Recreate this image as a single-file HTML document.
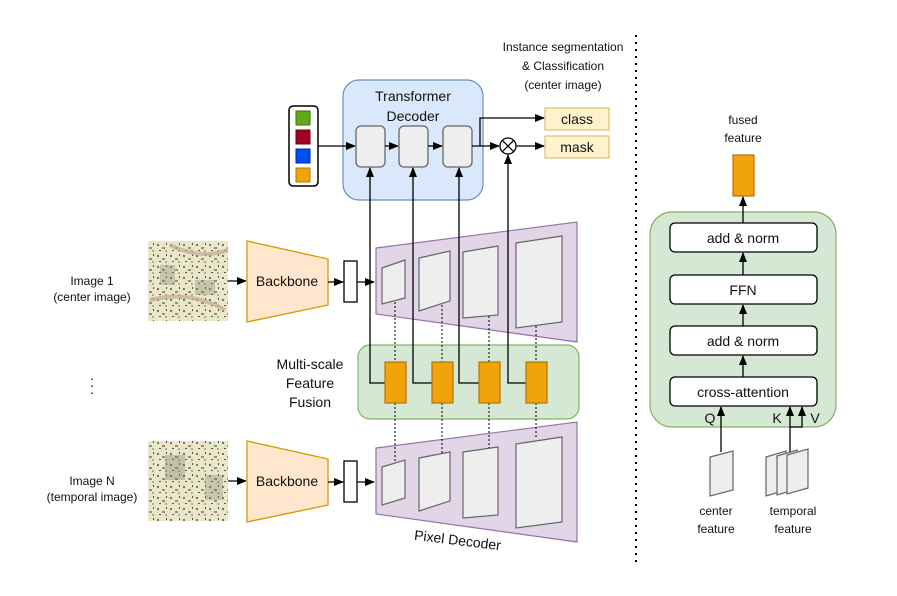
<!DOCTYPE html>
<html><head><meta charset="utf-8"><style>
html,body{margin:0;padding:0;background:#fff}
svg{display:block}
text{font-family:"Liberation Sans",Arial,sans-serif;fill:#111}
</style></head><body>
<svg width="897" height="596" viewBox="0 0 897 596" xmlns="http://www.w3.org/2000/svg">
<defs>
<marker id="a" markerWidth="10" markerHeight="10" refX="9" refY="5" orient="auto" markerUnits="userSpaceOnUse"><path d="M0,1 L10,5 L0,9 z" fill="#000"/></marker>
<pattern id="specks" width="13" height="11" patternUnits="userSpaceOnUse">
<rect width="13" height="11" fill="#ece6c8"/>
<rect x="1" y="2" width="2" height="2" fill="#6f7a66"/>
<rect x="6" y="5" width="3" height="2" fill="#8c9484"/>
<rect x="10" y="1" width="1" height="2" fill="#4d5548"/>
<rect x="3" y="8" width="2" height="1" fill="#555"/>
<rect x="9" y="8" width="2" height="2" fill="#a8ae9a"/>
</pattern>
</defs>

<!-- Transformer decoder -->
<rect x="343" y="80" width="140" height="120" rx="16" fill="#dae8fc" stroke="#6c8ebf" stroke-width="1.2"/>
<text x="413" y="101" font-size="14" text-anchor="middle">Transformer</text>
<text x="413" y="121" font-size="14" text-anchor="middle">Decoder</text>
<rect x="289" y="106" width="29" height="80" rx="4" fill="#fff" stroke="#000" stroke-width="1.5"/>
<rect x="296" y="111" width="14" height="14" fill="#60a917" stroke="#2d7600"/>
<rect x="296" y="130" width="14" height="14" fill="#a20025" stroke="#6f0000"/>
<rect x="296" y="149" width="14" height="14" fill="#0050ef" stroke="#001dbc"/>
<rect x="296" y="168" width="14" height="14" fill="#f0a30a" stroke="#bd7000"/>
<line x1="318" y1="146" x2="355" y2="146" stroke="#000" stroke-width="1.3" marker-end="url(#a)"/>
<rect x="356" y="126" width="29" height="41" rx="5" fill="#eee" stroke="#666" stroke-width="1.3"/>
<line x1="385" y1="146" x2="398" y2="146" stroke="#000" stroke-width="1.3" marker-end="url(#a)"/>
<rect x="399" y="126" width="29" height="41" rx="5" fill="#eee" stroke="#666" stroke-width="1.3"/>
<line x1="428" y1="146" x2="442" y2="146" stroke="#000" stroke-width="1.3" marker-end="url(#a)"/>
<rect x="443" y="126" width="29" height="41" rx="5" fill="#eee" stroke="#666" stroke-width="1.3"/>
<line x1="472" y1="146" x2="499" y2="146" stroke="#000" stroke-width="1.3" marker-end="url(#a)"/>
<polyline points="480,146 480,118 544,118" fill="none" stroke="#000" stroke-width="1.3" marker-end="url(#a)"/>
<circle cx="508" cy="146" r="8" fill="#fff" stroke="#000" stroke-width="1.3"/>
<line x1="502.3" y1="140.3" x2="513.7" y2="151.7" stroke="#000" stroke-width="1.3"/>
<line x1="513.7" y1="140.3" x2="502.3" y2="151.7" stroke="#000" stroke-width="1.3"/>
<line x1="516" y1="146" x2="544" y2="146" stroke="#000" stroke-width="1.3" marker-end="url(#a)"/>
<rect x="545" y="108" width="64" height="22" fill="#fff2cc" stroke="#d6b656"/>
<text x="577" y="124" font-size="14" text-anchor="middle">class</text>
<rect x="545" y="136" width="64" height="22" fill="#fff2cc" stroke="#d6b656"/>
<text x="577" y="152" font-size="14" text-anchor="middle">mask</text>
<text x="563" y="51" font-size="12" text-anchor="middle">Instance segmentation</text>
<text x="563" y="70" font-size="12" text-anchor="middle">&amp; Classification</text>
<text x="563" y="89" font-size="12" text-anchor="middle">(center image)</text>

<!-- Image 1 row -->
<text x="92" y="285" font-size="12" text-anchor="middle">Image 1</text>
<text x="92" y="301" font-size="12" text-anchor="middle">(center image)</text>
<rect x="148" y="241" width="80" height="80" fill="url(#specks)"/>
<path d="M170,245 Q200,260 228,250 M150,300 Q190,290 225,310" stroke="#c4a890" stroke-width="4" fill="none" opacity="0.7"/>
<rect x="160" y="265" width="15" height="20" fill="#7d8774" opacity="0.35"/>
<rect x="195" y="280" width="20" height="15" fill="#7d8774" opacity="0.35"/>
<line x1="228" y1="281" x2="246" y2="281" stroke="#000" stroke-width="1.3" marker-end="url(#a)"/>
<polygon points="247,241 328,259 328,305 247,322" fill="#ffe6cc" stroke="#d79b00" stroke-width="1.3"/>
<text x="287" y="286" font-size="14" text-anchor="middle">Backbone</text>
<line x1="328" y1="282" x2="343" y2="282" stroke="#000" stroke-width="1.3" marker-end="url(#a)"/>
<rect x="344" y="261" width="13" height="41" fill="#fff" stroke="#000" stroke-width="1.3"/>
<line x1="357" y1="282" x2="374" y2="282" stroke="#000" stroke-width="1.3" marker-end="url(#a)"/>

<!-- Image N row -->
<text x="92" y="485" font-size="12" text-anchor="middle">Image N</text>
<text x="92" y="501" font-size="12" text-anchor="middle">(temporal image)</text>
<rect x="148" y="441" width="80" height="80" fill="url(#specks)"/>
<rect x="165" y="455" width="20" height="25" fill="#6f7a66" opacity="0.35"/>
<rect x="205" y="475" width="18" height="25" fill="#6f7a66" opacity="0.3"/>
<line x1="228" y1="481" x2="246" y2="481" stroke="#000" stroke-width="1.3" marker-end="url(#a)"/>
<polygon points="247,441 328,459 328,505 247,522" fill="#ffe6cc" stroke="#d79b00" stroke-width="1.3"/>
<text x="287" y="486" font-size="14" text-anchor="middle">Backbone</text>
<line x1="328" y1="482" x2="343" y2="482" stroke="#000" stroke-width="1.3" marker-end="url(#a)"/>
<rect x="344" y="461" width="13" height="41" fill="#fff" stroke="#000" stroke-width="1.3"/>
<line x1="357" y1="482" x2="374" y2="482" stroke="#000" stroke-width="1.3" marker-end="url(#a)"/>
<text x="92" y="380" font-size="14" text-anchor="middle">.</text>
<text x="92" y="387" font-size="14" text-anchor="middle">.</text>
<text x="92" y="394" font-size="14" text-anchor="middle">.</text>

<!-- Pixel decoder top -->
<polygon points="376,248 577,222 577,342 376,314" fill="#e1d5e7" stroke="#9673a6" stroke-width="1.2"/>
<polygon points="382,268 405,260 405,298 382,304" fill="#eee" stroke="#666" stroke-width="1.2"/>
<polygon points="419,258 450,251 450,301 419,311" fill="#eee" stroke="#666" stroke-width="1.2"/>
<polygon points="463,252 498,246 498,315 463,318" fill="#eee" stroke="#666" stroke-width="1.2"/>
<polygon points="516,243 562,236 562,322 516,328" fill="#eee" stroke="#666" stroke-width="1.2"/>

<!-- Pixel decoder bottom -->
<polygon points="376,448 577,422 577,542 376,514" fill="#e1d5e7" stroke="#9673a6" stroke-width="1.2"/>
<polygon points="382,467 405,460 405,498 382,505" fill="#eee" stroke="#666" stroke-width="1.2"/>
<polygon points="419,458 450,452 450,501 419,511" fill="#eee" stroke="#666" stroke-width="1.2"/>
<polygon points="463,452 498,447 498,515 463,518" fill="#eee" stroke="#666" stroke-width="1.2"/>
<polygon points="516,444 562,437 562,522 516,528" fill="#eee" stroke="#666" stroke-width="1.2"/>
<text x="457" y="545" font-size="14" text-anchor="middle" transform="rotate(7 457 545)">Pixel Decoder</text>

<!-- Fusion -->
<rect x="358" y="345" width="221" height="74" rx="12" fill="#d5e8d4" stroke="#82b366" stroke-width="1.2"/>
<text x="310" y="369" font-size="14" text-anchor="middle">Multi-scale</text>
<text x="310" y="388" font-size="14" text-anchor="middle">Feature</text>
<text x="310" y="407" font-size="14" text-anchor="middle">Fusion</text>
<g stroke="#000" stroke-width="1" stroke-dasharray="2,2">
<line x1="395" y1="302" x2="395" y2="362"/><line x1="395" y1="403" x2="395" y2="462"/>
<line x1="442" y1="305" x2="442" y2="362"/><line x1="442" y1="403" x2="442" y2="454"/>
<line x1="489" y1="316" x2="489" y2="362"/><line x1="489" y1="403" x2="489" y2="448"/>
<line x1="536" y1="326" x2="536" y2="362"/><line x1="536" y1="403" x2="536" y2="438"/>
</g>
<g fill="none" stroke="#000" stroke-width="1.3" marker-end="url(#a)">
<polyline points="385,383 370,383 370,168"/>
<polyline points="432,383 413,383 413,168"/>
<polyline points="479,383 459,383 459,168"/>
<polyline points="526,383 508,383 508,155"/>
</g>
<g fill="#f0a30a" stroke="#bd7000" stroke-width="1.2">
<rect x="385" y="362" width="21" height="41"/>
<rect x="432" y="362" width="21" height="41"/>
<rect x="479" y="362" width="21" height="41"/>
<rect x="526" y="362" width="21" height="41"/>
</g>

<!-- divider -->
<line x1="636" y1="35" x2="636" y2="562" stroke="#000" stroke-width="2" stroke-dasharray="2,5"/>

<!-- right -->
<text x="743" y="124" font-size="12" text-anchor="middle">fused</text>
<text x="743" y="142" font-size="12" text-anchor="middle">feature</text>
<rect x="733" y="155" width="21" height="41" fill="#f0a30a" stroke="#bd7000" stroke-width="1.2"/>
<rect x="650" y="212" width="186" height="215" rx="22" fill="#d5e8d4" stroke="#82b366" stroke-width="1.2"/>
<line x1="743" y1="223" x2="743" y2="197" stroke="#000" stroke-width="1.3" marker-end="url(#a)"/>
<rect x="670" y="223" width="147" height="29" rx="5" fill="#fff" stroke="#000" stroke-width="1.3"/>
<text x="743" y="243" font-size="14" text-anchor="middle">add &amp; norm</text>
<line x1="743" y1="275" x2="743" y2="253" stroke="#000" stroke-width="1.3" marker-end="url(#a)"/>
<rect x="670" y="275" width="147" height="29" rx="5" fill="#fff" stroke="#000" stroke-width="1.3"/>
<text x="743" y="295" font-size="14" text-anchor="middle">FFN</text>
<line x1="743" y1="326" x2="743" y2="305" stroke="#000" stroke-width="1.3" marker-end="url(#a)"/>
<rect x="670" y="326" width="147" height="29" rx="5" fill="#fff" stroke="#000" stroke-width="1.3"/>
<text x="743" y="346" font-size="14" text-anchor="middle">add &amp; norm</text>
<line x1="743" y1="377" x2="743" y2="356" stroke="#000" stroke-width="1.3" marker-end="url(#a)"/>
<rect x="670" y="377" width="147" height="29" rx="5" fill="#fff" stroke="#000" stroke-width="1.3"/>
<text x="743" y="397" font-size="14" text-anchor="middle">cross-attention</text>
<text x="710" y="423" font-size="14" text-anchor="middle">Q</text>
<text x="777" y="423" font-size="14" text-anchor="middle">K</text>
<text x="815" y="423" font-size="14" text-anchor="middle">V</text>
<line x1="721" y1="452" x2="721" y2="407" stroke="#000" stroke-width="1.3" marker-end="url(#a)"/>
<line x1="790" y1="452" x2="790" y2="407" stroke="#000" stroke-width="1.3" marker-end="url(#a)"/>
<polyline points="790,427 802,427 802,407" fill="none" stroke="#000" stroke-width="1.3" marker-end="url(#a)"/>
<polygon points="710,457 733,451 733,490 710,496" fill="#eee" stroke="#666" stroke-width="1.2"/>
<polygon points="766,457 786,451 786,490 766,496" fill="#eee" stroke="#666" stroke-width="1.2"/>
<polygon points="777,456 797,450 797,489 777,495" fill="#eee" stroke="#666" stroke-width="1.2"/>
<polygon points="787,455 808,449 808,488 787,494" fill="#eee" stroke="#666" stroke-width="1.2"/>
<text x="716" y="515" font-size="12" text-anchor="middle">center</text>
<text x="716" y="533" font-size="12" text-anchor="middle">feature</text>
<text x="793" y="515" font-size="12" text-anchor="middle">temporal</text>
<text x="793" y="533" font-size="12" text-anchor="middle">feature</text>
</svg>
</body></html>
